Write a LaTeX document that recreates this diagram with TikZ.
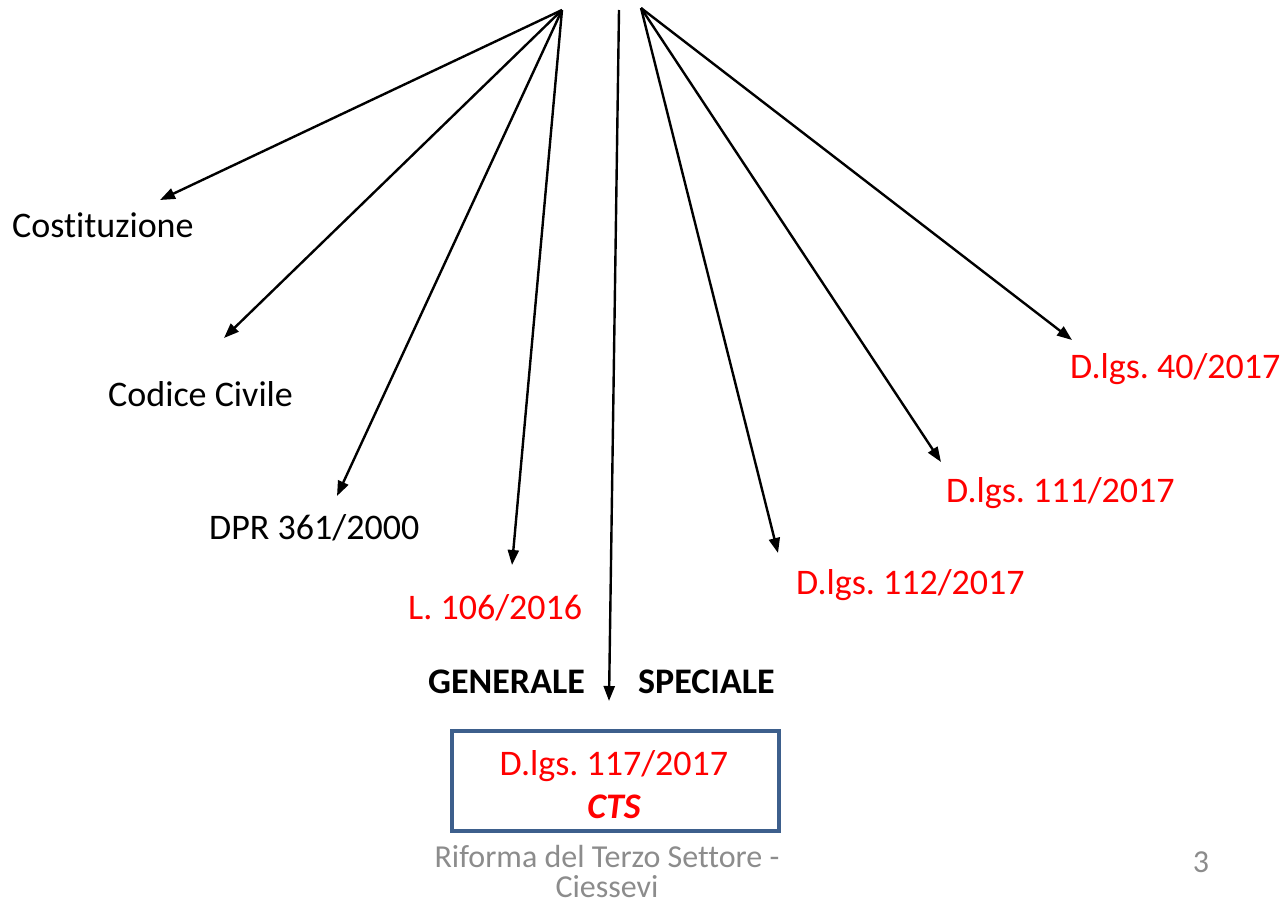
\documentclass[tikz,border=0pt]{standalone}
\usepackage{fontspec}
\setmainfont[Ligatures={NoCommon}]{Carlito}
\frenchspacing
\usetikzlibrary{arrows.meta}
\definecolor{boxblue}{HTML}{3D5F8C}
\definecolor{footgray}{HTML}{8C8C8C}
\begin{document}
\begin{tikzpicture}[x=1pt,y=-1pt,
  lbl/.style={font=\fontsize{36}{42}\selectfont, inner sep=0pt},
  redlbl/.style={lbl, text=red},
  arr/.style={draw=black, line width=2.4pt, -{Triangle[length=15pt,width=11pt]}},
  foot/.style={font=\fontsize{32}{38}\selectfont, text=footgray, inner sep=0pt}]
\useasboundingbox (0,0) rectangle (1285,907);
\coordinate (oL) at (562,10);
\coordinate (oC) at (619,10);
\coordinate (oR) at (641,8);
\coordinate (eCost) at (160,200);
\coordinate (eCod) at (224,338);
\coordinate (eDpr) at (337,496);
\coordinate (eL) at (512,565);
\coordinate (e112) at (778,553);
\coordinate (e111) at (941,462);
\coordinate (e40) at (1072,340);
\coordinate (eC) at (609,701);
\node[lbl, anchor=west] (cost) at (12,225) {Costituzione};
\node[lbl, anchor=west] (cod) at (108,394) {Codice Civile};
\node[lbl, anchor=west] (dpr) at (209,528) {DPR 361/2000};
\node[redlbl, anchor=west] (l106) at (408,608) {L. 106/2016};
\node[redlbl, anchor=west] (d112) at (796,585) {D.lgs. 112/2017};
\node[redlbl, anchor=west] (d111) at (946,493) {D.lgs. 111/2017};
\node[redlbl, anchor=west] (d40) at (1070,369) {D.lgs. 40/2017};
\node[lbl, font=\fontsize{36}{42}\selectfont\bfseries, anchor=west] (gen) at (428,682) {GENERALE};
\node[lbl, font=\fontsize{36}{42}\selectfont\bfseries, anchor=west] (spe) at (638,682) {SPECIALE};
\node[draw=boxblue, line width=4pt, minimum width=327pt, minimum height=100pt, inner sep=0pt] (box) at (615.5,780.5) {};
\node[redlbl] (dl117) at (614,766) {D.lgs. 117/2017};
\node[redlbl, font=\fontsize{36}{42}\selectfont\bfseries\itshape] (cts) at (614,807) {CTS};
\node[foot] (foot1) at (607,856) {Riforma del Terzo Settore -};
\node[foot] (foot2) at (607,887) {Ciessevi};
\node[foot] (pg) at (1201,862) {3};
\draw[arr] (oL) -- (eCost);
\draw[arr] (oL) -- (eCod);
\draw[arr] (oL) -- (eDpr);
\draw[arr] (oL) -- (eL);
\draw[arr] (oC) -- (eC);
\draw[arr] (oR) -- (e112);
\draw[arr] (oR) -- (e111);
\draw[arr] (oR) -- (e40);
\end{tikzpicture}
\end{document}
